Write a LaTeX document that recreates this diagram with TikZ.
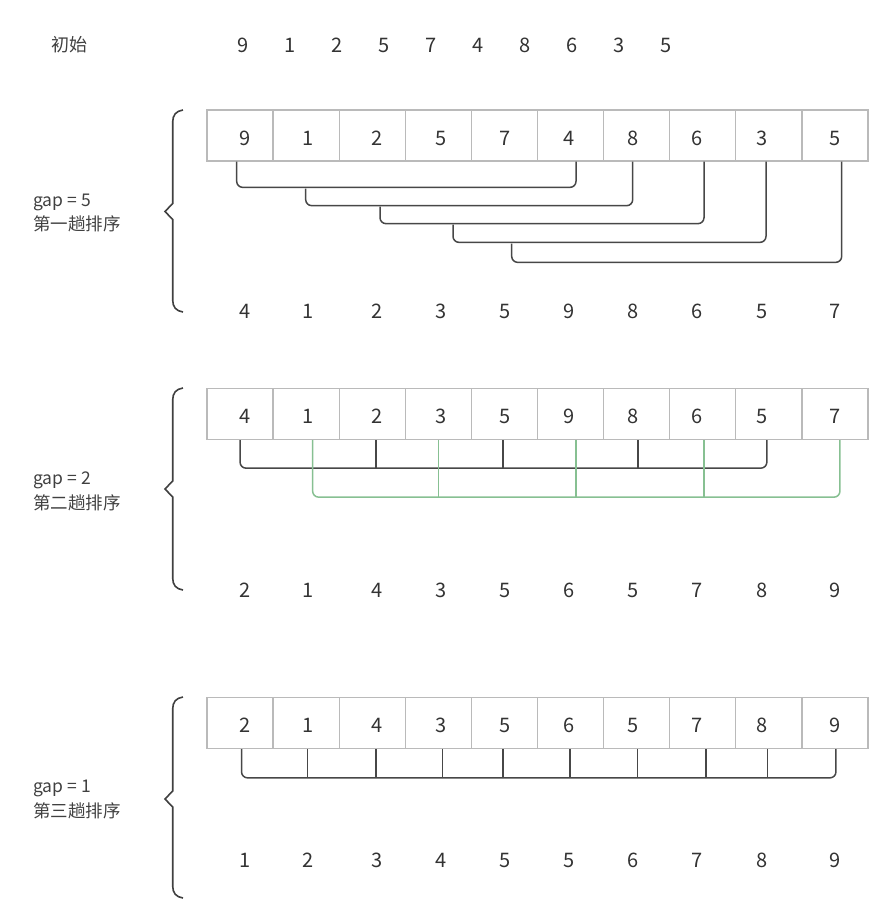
\documentclass[tikz,border=0pt]{standalone}
\usepackage{fontspec}
\setmainfont{Noto Sans CJK SC}
\begin{document}
\begin{tikzpicture}[x=1pt,y=-1pt,
  cell/.style={draw=black!27,line width=1.3pt,minimum width=66.1pt,minimum height=51pt,inner sep=0pt},
  num/.style={inner sep=0pt,font=\fontsize{20}{22}\selectfont,text=black!80},
  lab/.style={inner sep=0pt,anchor=west,font=\fontsize{17.5}{20}\selectfont,text=black!75},
  conn/.style={draw=black!72,line width=1.5pt,rounded corners=6pt},
  gconn/.style={draw={rgb,255:red,135;green,192;blue,146},line width=1.5pt,rounded corners=6pt},
  brace/.style={draw=black!75,line width=1.6pt}]
\useasboundingbox (0,0) rectangle (896,914);

% initial line
\node[inner sep=0pt,font=\fontsize{18}{20}\selectfont,text=black!75] (init) at (69,45) {初始};
\foreach \v [count=\i] in {9,1,2,5,7,4,8,6,3,5}
  \node[num] (i\i) at ({243+47*(\i-1)},45) {\v};

% rows of cells
\foreach \v/\dxx [count=\i] in {9/245,1/308,2/377,5/441,7/505,4/569,8/633,6/697,3/762,5/835}{
  \node[cell] (a\i) at ({207+66.1*(\i-0.5)},135.5) {};
  \node[num] (ad\i) at (\dxx,138) {\v};
}
\foreach \v/\dxx [count=\i] in {4/245,1/308,2/377,3/441,5/505,9/569,8/633,6/697,5/762,7/835}{
  \node[cell] (b\i) at ({207+66.1*(\i-0.5)},414) {};
  \node[num] (bd\i) at (\dxx,416) {\v};
  \node[num] (ar\i) at (\dxx,311) {\v};
}
\foreach \v/\dxx [count=\i] in {2/245,1/308,4/377,3/441,5/505,6/569,5/633,7/697,8/762,9/835}{
  \node[cell] (c\i) at ({207+66.1*(\i-0.5)},723) {};
  \node[num] (cd\i) at (\dxx,725) {\v};
  \node[num] (br\i) at (\dxx,590) {\v};
}
\foreach \v/\dxx [count=\i] in {1/245,2/308,3/377,4/441,5/505,5/569,6/633,7/697,8/762,9/835}
  \node[num] (cr\i) at (\dxx,860) {\v};

% labels
\node[lab] (g5) at (33,202) {gap = 5};
\node[lab] (t1) at (33,224) {第一趟排序};
\node[lab] (g2) at (33,480) {gap = 2};
\node[lab] (t2) at (33,503) {第二趟排序};
\node[lab] (g1) at (33,788) {gap = 1};
\node[lab] (t3) at (33,811) {第三趟排序};

% braces
\foreach \t/\m/\b in {110/211.5/312, 388/489/590, 697/799/898}
  \draw[brace] (183,\t) .. controls (176,\t+1) and (172.7,\t+5) .. (172.7,\t+12)
     -- (172.7,\m-8) -- (165,\m) -- (172.7,\m+8) -- (172.7,\b-12)
     .. controls (172.7,\b-5) and (176,\b-1) .. (183,\b);

% gap = 5 connectors
\draw[conn] ([xshift=-3.35pt]a1.south) -- ++(0,25.7) -| ([xshift=5.45pt]a6.south);
\coordinate (s2) at ([xshift=-0.45pt,yshift=-27pt]a2.south);
\draw[conn] (s2) -- ++(0,17) -| ([xshift=-3.95pt]a7.south);
\coordinate (s3) at ([xshift=7.75pt,yshift=-45pt]a3.south);
\draw[conn] (s3) -- ++(0,17) -| ([xshift=1.25pt]a8.south);
\coordinate (s4) at ([xshift=14.65pt,yshift=-63pt]a4.south);
\draw[conn] (s4) -- ++(0,17.7) -| ([xshift=-2.85pt]a9.south);
\coordinate (s5) at ([xshift=7.25pt,yshift=-82pt]a5.south);
\draw[conn] (s5) -- ++(0,18.7) -| ([xshift=6.75pt]a10.south);

% gap = 2 connectors
\draw[conn] (b1.south) -- ++(0,28) -| ([xshift=-2pt]b9.south);
\foreach \k/\s in {3/3.5,5/-1.5,7/1.3}
  \draw[conn] ([xshift=\s pt]b\k.south) -- ++(0,28);
\draw[gconn] ([xshift=6.5pt]b2.south) -- ++(0,57) -| ([xshift=5pt]b10.south);
\foreach \k/\s in {4/0,6/5.5,8/1.25}
  \draw[gconn] ([xshift=\s pt]b\k.south) -- ++(0,57);

% gap = 1 connectors
\draw[conn] ([xshift=1.5pt]c1.south) -- ++(0,28.7) -| ([xshift=1pt]c10.south);
\foreach \k/\s in {2/1.5,3/3.5,4/4.3,5/-1.5,6/-0.5,7/1,8/3,9/-1.2}
  \draw[conn] ([xshift=\s pt]c\k.south) -- ++(0,28.7);
\end{tikzpicture}
\end{document}
